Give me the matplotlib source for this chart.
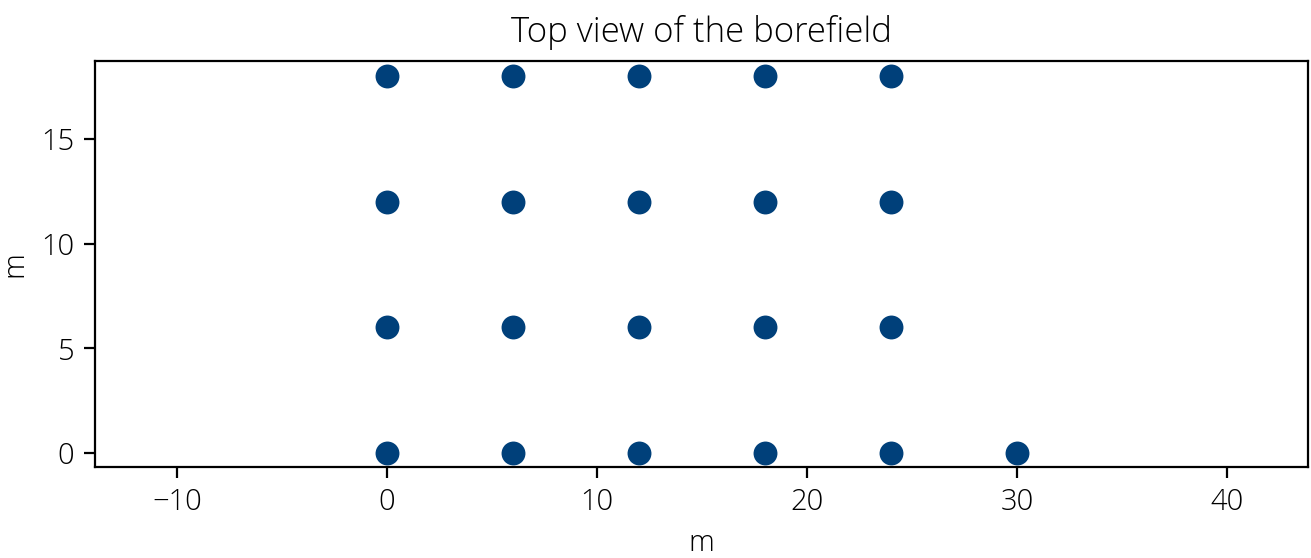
import matplotlib
matplotlib.use("Agg")
import matplotlib.pyplot as plt

# borehole positions in metres (6 m spacing, 5x4 grid plus one extra)
x_bores = [0, 6, 12, 18, 24,
           0, 6, 12, 18, 24,
           0, 6, 12, 18, 24,
           0, 6, 12, 18, 24, 30]
y_bores = [18, 18, 18, 18, 18,
           12, 12, 12, 12, 12,
           6, 6, 6, 6, 6,
           0, 0, 0, 0, 0, 0]

plt.rcParams['font.family'] = ['Open Sans', 'DejaVu Sans']
plt.rcParams['font.weight'] = 'light'
plt.rcParams['axes.titleweight'] = 'light'
plt.rcParams['axes.labelweight'] = 'light'

fig = plt.figure(figsize=(6.555, 2.79), dpi=200)
ax = fig.add_axes([0.0725, 0.163, 0.9252, 0.7277])

ax.scatter(x_bores, y_bores, s=74, color='#00407a', zorder=3, linewidths=0)

ax.set_aspect('equal', adjustable='datalim')
ax.set_xlim(-13.9, 43.86)
ax.set_ylim(-0.67, 18.73)
ax.set_xticks([-10, 0, 10, 20, 30, 40])
ax.set_yticks([0, 5, 10, 15])

ax.set_title('Top view of the borefield', fontsize=12.5, pad=7)
ax.set_xlabel('m', fontsize=10.5)
ax.set_ylabel('m', fontsize=10.5)
ax.tick_params(labelsize=10.5, length=4, width=0.8)
for sp in ax.spines.values():
    sp.set_linewidth(0.8)

fig.savefig('out.png', dpi=200)
